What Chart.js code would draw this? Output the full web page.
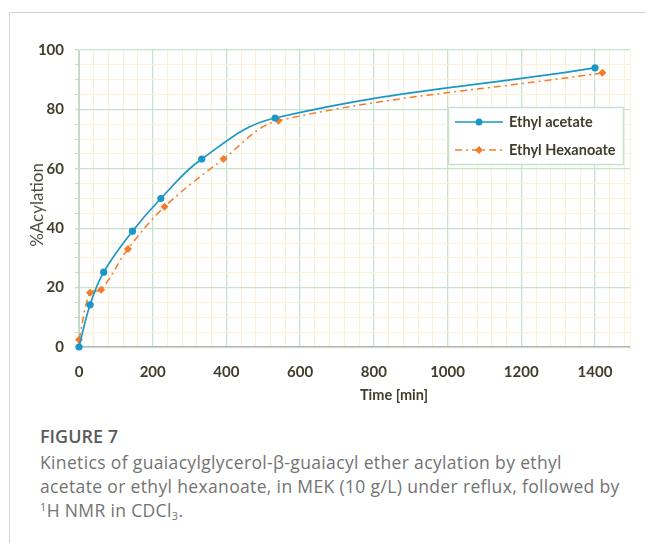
<!DOCTYPE html>
<html><head><meta charset="utf-8">
<script src="https://cdn.jsdelivr.net/npm/chart.js@4/dist/chart.umd.min.js"></script>
<style>
html,body{margin:0;padding:0;background:#fff;width:646px;height:543px;overflow:hidden;}
#frame{position:absolute;left:9px;top:12px;width:640px;height:540px;border-top:1px solid #d4d4d4;border-left:1px solid #d4d4d4;}
#wrap{position:absolute;left:0;top:0;width:646px;height:410px;}
#fig{position:absolute;left:40px;top:424px;font:600 18px "Open Sans";color:#5b5b5b;}
#cap{position:absolute;left:40px;top:450px;width:606px;font:400 17.5px/24px "Open Sans";letter-spacing:0.35px;color:#737373;white-space:nowrap;}
#cap sup{font-size:11px;vertical-align:6px;line-height:0;}
#cap sub{font-size:11px;vertical-align:-3px;line-height:0;}
</style></head>
<body>
<div id="frame"></div>
<div id="wrap"><canvas id="c" width="646" height="410"></canvas></div>
<div id="fig">FIGURE 7</div>
<div id="cap">Kinetics of guaiacylglycerol-β-guaiacyl ether acylation by ethyl<br>acetate or ethyl hexanoate, in MEK (10 g/L) under reflux, followed by<br><sup>1</sup>H NMR in CDCl<sub>3</sub>.</div>
<script>
// ---- data ----
const seriesNames = ['Ethyl acetate', 'Ethyl Hexanoate'];
const timesAcetate = [0, 30, 67, 145, 222, 333, 532, 1400];
const acetate = [0, 14.2, 25.2, 39, 50, 63.3, 77.1, 94];
const timesHexanoate = [0, 30, 60, 133, 232, 392, 541, 1420];
const hexanoate = [2.4, 18.3, 19.3, 33, 47.2, 63.3, 76.2, 92.3];
const xTickLabels = [0, 200, 400, 600, 800, 1000, 1200, 1400];
const yTickLabels = [0, 20, 40, 60, 80, 100];
const xTitle = 'Time [min]';
const yTitle = '%Acylation';

const BLUE = '#1b97c7', ORANGE = '#f57b2b';
const TXT = '#403d2b';
const MAJOR = '#c6e3cc', MINOR = '#fcf0d6';

const overlay = {
  id: 'overlay',
  afterDraw(chart) {
    const c = chart.ctx;
    c.save();
    // axis titles
    c.fillStyle = TXT;
    c.font = 'bold 14.5px Lato';
    c.textAlign = 'center';
    c.textBaseline = 'middle';
    c.fillText(xTitle, 394, 395);
    c.save();
    c.translate(38, 205);
    c.rotate(-Math.PI / 2);
    c.font = '17px Lato';
    c.fillStyle = '#4d4d48';
    c.fillText(yTitle, 0, 0);
    c.restore();
    // legend
    const bx = 448, by = 107, bw = 175, bh = 57;
    c.fillStyle = '#fff';
    c.fillRect(bx, by, bw, bh);
    c.strokeStyle = MAJOR; c.lineWidth = 1.5;
    c.strokeRect(bx + 0.5, by + 0.5, bw, bh);
    const rows = [
      {y: 122, color: BLUE, dash: [], marker: 'circle'},
      {y: 150, color: ORANGE, dash: [7, 4, 2, 4], marker: 'diamond'}
    ];
    rows.forEach((r, i) => {
      c.strokeStyle = r.color; c.lineWidth = 1.5; c.setLineDash(r.dash);
      c.beginPath(); c.moveTo(455, r.y); c.lineTo(503, r.y); c.stroke();
      c.setLineDash([]);
      c.fillStyle = r.color;
      c.beginPath();
      if (r.marker === 'circle') { c.arc(479, r.y, 3.5, 0, Math.PI * 2); }
      else { c.moveTo(479, r.y - 4); c.lineTo(483, r.y); c.lineTo(479, r.y + 4); c.lineTo(475, r.y); c.closePath(); }
      c.fill();
      c.fillStyle = TXT; c.font = 'bold 14.5px Lato'; c.textAlign = 'left'; c.textBaseline = 'middle';
      c.fillText(seriesNames[i], 509, r.y);
    });
    c.restore();
  }
};

new Chart(document.getElementById('c'), {
  type: 'line',
  data: {
    datasets: [
      {
        label: seriesNames[0],
        data: timesAcetate.map((t, i) => ({x: t, y: acetate[i]})),
        borderColor: BLUE, backgroundColor: BLUE, borderWidth: 1.7,
        pointStyle: 'circle', pointRadius: 3.6, pointBorderWidth: 0,
        tension: 0.4, clip: false
      },
      {
        label: seriesNames[1],
        data: timesHexanoate.map((t, i) => ({x: t, y: hexanoate[i]})),
        borderColor: ORANGE, backgroundColor: ORANGE, borderWidth: 1.5,
        borderDash: [7, 4, 2, 4],
        pointStyle: 'rectRot', pointRadius: 4, pointBorderWidth: 0,
        tension: 0.35, clip: false
      }
    ]
  },
  options: {
    responsive: false, animation: false, devicePixelRatio: 1,
    layout: {padding: {top: 50, right: 16, left: 0, bottom: 0}},
    plugins: {legend: {display: false}, tooltip: {enabled: false}},
    scales: {
      x: {
        type: 'linear', min: 0, max: 1495,
        afterFit(s) { s.height = 63; },
        afterBuildTicks(s) {
          const t = [];
          for (let v = 0; v <= 1480; v += 40) t.push({value: v});
          t.push({value: 1495});
          s.ticks = t;
        },
        grid: {
          color: ctx => (xTickLabels.includes(ctx.tick.value) ? MAJOR : MINOR),
          lineWidth: ctx => (xTickLabels.includes(ctx.tick.value) ? 1.3 : 1),
          drawTicks: false
        },
        border: {color: '#b4b4b4', width: 1.6},
        ticks: {
          autoSkip: false, maxRotation: 0, padding: 16, color: TXT,
          font: {family: 'Lato', size: 15, weight: 'bold'},
          callback: v => (xTickLabels.includes(v) ? String(v) : '')
        }
      },
      y: {
        type: 'linear', min: 0, max: 100,
        afterFit(s) { s.width = 79; },
        afterBuildTicks(s) {
          const t = [];
          for (let v = 0; v <= 100; v += 5) t.push({value: v});
          s.ticks = t;
        },
        grid: {
          color: ctx => (yTickLabels.includes(ctx.tick.value) ? MAJOR : MINOR),
          lineWidth: ctx => (yTickLabels.includes(ctx.tick.value) ? 1.3 : 1),
          drawTicks: true, tickLength: 4, tickColor: '#cfd5cf'
        },
        border: {color: '#c3d3c6', width: 1},
        ticks: {
          autoSkip: false, padding: 11, color: TXT,
          font: {family: 'Lato', size: 15, weight: 'bold'},
          callback: v => (yTickLabels.includes(v) ? String(v) : '')
        }
      }
    }
  },
  plugins: [overlay]
});
</script>
</body></html>
